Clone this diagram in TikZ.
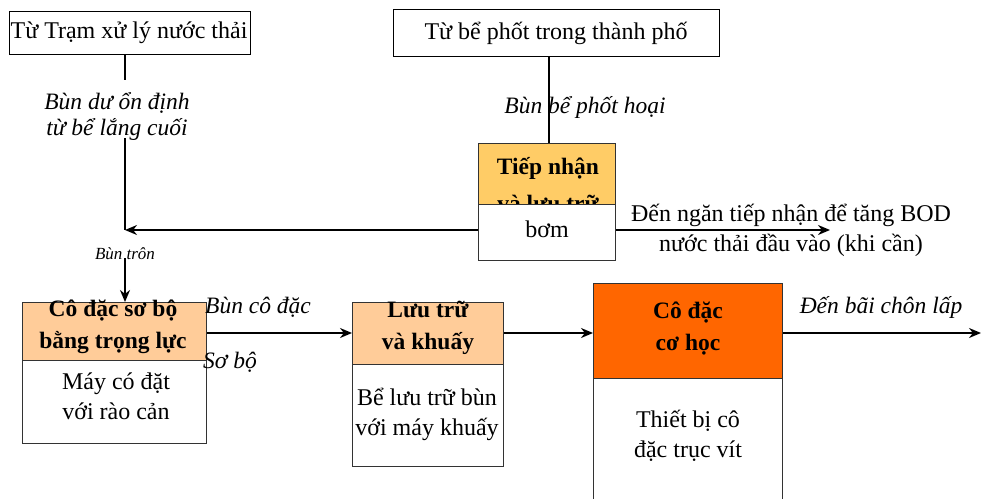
\documentclass[tikz,border=0pt]{standalone}
\usepackage{fontspec}
\setmainfont{Liberation Serif}
\usetikzlibrary{arrows.meta}
\definecolor{peach}{HTML}{FFCC99}
\definecolor{gold}{HTML}{FFCC66}
\definecolor{orng}{HTML}{FF6600}
\tikzset{
  src/.style={draw=black, line width=1.2pt, fill=white, anchor=north west, inner sep=0pt},
  hdr/.style={draw=black!80, line width=1.2pt, anchor=north west, inner sep=0pt},
  body/.style={draw=black!80, line width=1.2pt, fill=white, anchor=north west, inner sep=0pt},
  txt/.style={align=center, inner sep=0pt, font=\fontsize{24}{30}\selectfont},
  btxt/.style={align=center, inner sep=0pt, font=\fontsize{23.5}{32}\selectfont\bfseries},
  itxt/.style={align=center, inner sep=0pt, font=\fontsize{23.5}{26}\selectfont\itshape},
  conn/.style={line width=1.8pt},
  arr/.style={line width=1.8pt, -{Stealth[length=12pt,width=10pt]}}
}
\begin{document}
\begin{tikzpicture}[x=1pt,y=-1pt]
\clip (0,0) rectangle (981,498);
\fill[white] (0,0) rectangle (981,498);

% source boxes
\node[src, minimum width=241pt, minimum height=43pt] (tram) at (9,11) {};
\node[txt] at (129,33) {Từ Trạm xử lý nước thải};
\node[src, minimum width=326pt, minimum height=47pt] (phot) at (393,9) {};
\node[txt] at (556,33) {Từ bể phốt trong thành phố};

% Tiep nhan
\node[hdr, fill=gold, minimum width=137pt, minimum height=61pt] (tnh) at (478,143) {};
\node[btxt, anchor=base] at (548,174) {Tiếp nhận};
\node[btxt, anchor=base] at (548,211) {và lưu trữ};
\node[body, minimum width=137pt, minimum height=56pt] (tnb) at (478,204) {};
\node[txt] at (547,229) {bơm};

% Co dac so bo
\node[hdr, fill=peach, minimum width=184pt, minimum height=58pt] (sbh) at (22,302) {};
\node[btxt] at (113,327) {Cô đặc sơ bộ\\bằng trọng lực};
\node[body, minimum width=184pt, minimum height=83pt] (sbb) at (22,360) {};
\node[txt] at (116,396) {Máy có đặt\\với rào cản};

% Luu tru va khuay
\node[hdr, fill=peach, minimum width=151pt, minimum height=62pt] (lth) at (352,302) {};
\node[btxt] at (428,328) {Lưu trữ\\và khuấy};
\node[body, minimum width=151pt, minimum height=102pt] (ltb) at (352,364) {};
\node[txt] at (427,414) {Bể lưu trữ bùn\\với máy khuấy};

% Co dac co hoc
\node[hdr, fill=orng, minimum width=189pt, minimum height=95pt] (chh) at (593,283) {};
\node[btxt] at (688,329) {Cô đặc\\cơ học};
\node[body, minimum width=189pt, minimum height=140pt] (chb) at (593,378) {};
\node[txt] at (688,436) {Thiết bị cô\\đặc trục vít};

% junction
\coordinate (J) at (125,230);
\coordinate (g1) at (125,80);
\coordinate (g2) at (125,138);
\coordinate (bt) at (125,258);
\coordinate (bod) at (830,230);
\coordinate (land) at (981,333);

% connectors
\draw[conn] (tram.south -| J) -- (g1);
\draw[conn] (g2) -- (J);
\node[itxt] at (117,116) {Bùn dư ổn định\\từ bể lắng cuối};
\draw[conn] (phot.south -| 549,0) -- (tnh.north -| 549,0);
\node[itxt] at (585,107) {Bùn bể phốt hoại};
\draw[arr] (tnb.west |- J) -- (J);
\draw[arr] (tnb.east |- J) -- (bod);
\node[txt] at (791,230) {Đến ngăn tiếp nhận để tăng BOD\\nước thải đầu vào (khi cần)};
\node[inner sep=0pt, font=\fontsize{17}{19}\selectfont\itshape] at (125,254) {Bùn trôn};
\draw[arr] (bt) -- (sbh.north -| bt);
\draw[arr] (sbh.east |- 0,333) -- (lth.west |- 0,333);
\node[itxt] at (258,307) {Bùn cô đặc};
\node[itxt] at (230,362) {Sơ bộ};
\draw[arr] (lth.east |- 0,333) -- (chh.west |- 0,333);
\draw[arr] (chh.east |- 0,333) -- (land);
\node[itxt] at (881,307) {Đến bãi chôn lấp};
\end{tikzpicture}
\end{document}
